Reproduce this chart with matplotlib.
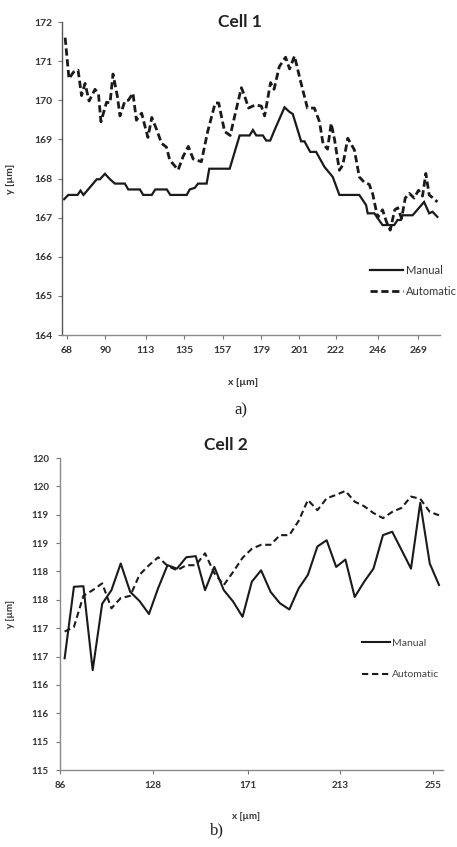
import matplotlib
matplotlib.use('agg')
import matplotlib.pyplot as plt
import numpy as np

plt.rcParams['font.family'] = ['Lato', 'DejaVu Sans']

# Cell 1 - manual contour (x in µm, y in µm)
c1_man_x = [66.3, 68.7, 74.0, 75.7, 77.4, 85.0, 86.8, 89.7, 92.6, 95.4, 101.1, 103.0,
            109.7, 111.6, 116.5, 118.5, 125.1, 127.1, 136.5, 138.2, 141.1, 143.0, 147.9,
            149.4, 161.1, 166.8, 172.5, 174.4, 176.3, 180.1, 182.0, 184.3, 186.8, 192.5,
            195.4, 197.2, 202.0, 203.9, 207.2, 210.6, 215.3, 220.1, 223.9, 235.3, 239.2,
            240.1, 243.9, 248.6, 255.3, 257.2, 259.1, 260.0, 265.8, 272.4, 275.3, 277.2,
            280.0]
c1_man_y = [167.47, 167.58, 167.58, 167.69, 167.58, 167.98, 167.98, 168.12, 167.98, 167.87,
            167.87, 167.72, 167.72, 167.58, 167.58, 167.72, 167.72, 167.58, 167.58, 167.72,
            167.76, 167.87, 167.87, 168.25, 168.25, 169.10, 169.10, 169.24, 169.10, 169.10,
            168.97, 168.97, 169.24, 169.82, 169.70, 169.65, 168.95, 168.95, 168.68, 168.68,
            168.30, 168.04, 167.58, 167.58, 167.32, 167.11, 167.11, 166.81, 166.81, 166.94,
            166.94, 167.06, 167.06, 167.40, 167.11, 167.15, 167.02]

# Cell 1 - automatic contour
c1_auto_x = [66.9, 69.1, 71.7, 74.3, 76.3, 78.3, 80.6, 84.0, 86.0, 87.4, 90.6, 92.6, 94.3,
             96.8, 98.3, 101.1, 103.1, 105.7, 107.7, 110.7, 112.8, 114.3, 116.5, 119.2,
             122.1, 124.9, 126.8, 129.1, 131.6, 134.4, 137.4, 140.2, 144.9, 148.5, 152.8,
             154.8, 158.2, 161.4, 164.5, 167.8, 169.7, 171.9, 174.2, 176.3, 179.2, 181.1,
             184.5, 186.5, 189.5, 193.1, 195.4, 198.2, 201.6, 205.6, 209.6, 212.5, 214.5,
             217.1, 219.2, 221.1, 223.9, 225.9, 228.7, 232.5, 235.3, 238.2, 241.0, 243.0,
             245.8, 248.6, 250.8, 253.0, 255.6, 257.3, 259.5, 261.6, 263.9, 266.7, 269.2,
             271.5, 273.4, 275.3, 277.6, 280.0]
c1_auto_y = [171.60, 170.55, 170.72, 170.77, 170.12, 170.43, 169.98, 170.28, 170.15, 169.45,
             169.95, 169.93, 170.67, 170.10, 169.60, 169.98, 170.00, 170.18, 169.49, 169.67,
             169.30, 169.05, 169.56, 169.26, 168.90, 168.80, 168.47, 168.35, 168.22, 168.56,
             168.82, 168.50, 168.43, 169.20, 169.93, 169.93, 169.20, 169.10, 169.70, 170.32,
             170.10, 169.80, 169.85, 169.88, 169.85, 169.60, 170.45, 170.28, 170.86, 171.10,
             170.80, 171.13, 170.50, 169.80, 169.80, 169.45, 168.90, 168.75, 169.41, 169.00,
             168.21, 168.35, 169.03, 168.73, 168.04, 167.90, 167.85, 167.60, 167.00, 167.20,
             166.90, 166.68, 167.20, 167.25, 166.98, 167.50, 167.62, 167.50, 167.70, 167.55,
             168.13, 167.58, 167.50, 167.40]

c1_xticks = [68, 90, 113, 135, 157, 179, 201, 222, 246, 269]
c1_yticks = [164, 165, 166, 167, 168, 169, 170, 171, 172]

# Cell 2 - both contours share the sampling positions
c2_x = [88.1, 92.3, 96.6, 100.8, 105.1, 109.3, 113.5, 117.8, 122.0, 126.3, 130.5, 134.7,
        139.0, 143.2, 147.5, 151.7, 155.9, 160.2, 164.4, 168.7, 172.9, 177.1, 181.4, 185.6,
        189.9, 194.1, 198.3, 202.6, 206.8, 211.1, 215.3, 219.5, 223.8, 228.0, 232.3, 236.5,
        240.7, 245.0, 249.2, 253.5, 257.7]
c2_man = [116.47, 117.73, 117.74, 116.26, 117.43, 117.67, 118.14, 117.64, 117.48, 117.25,
          117.71, 118.11, 118.05, 118.25, 118.27, 117.67, 118.08, 117.67, 117.47, 117.20,
          117.82, 118.02, 117.64, 117.44, 117.33, 117.70, 117.94, 118.44, 118.55, 118.08,
          118.21, 117.55, 117.82, 118.05, 118.64, 118.70, 118.38, 118.05, 119.21, 118.14,
          117.76]
c2_auto = [116.94, 117.02, 117.57, 117.67, 117.79, 117.35, 117.53, 117.57, 117.94, 118.11,
           118.25, 118.10, 118.02, 118.11, 118.11, 118.32, 117.97, 117.76, 117.99, 118.24,
           118.40, 118.47, 118.47, 118.64, 118.64, 118.89, 119.26, 119.08, 119.29, 119.35,
           119.42, 119.23, 119.15, 119.03, 118.94, 119.05, 119.12, 119.32, 119.28, 119.05,
           118.99]

c2_xticks = [86, 128, 171, 213, 255]
c2_yticks = [114.5, 115, 115.5, 116, 116.5, 117, 117.5, 118, 118.5, 119, 119.5, 120]
c2_ylabels = ['115', '115', '116', '116', '117', '117', '118', '118', '119', '119', '120', '120']

ink = '#1a1a1a'
fig = plt.figure(figsize=(4.57, 8.47), dpi=100)


def style_axes(ax, size):
    for s in ['top', 'right']:
        ax.spines[s].set_visible(False)
    ax.spines['left'].set_color('#555555')
    ax.spines['bottom'].set_color('#8a8a8a')
    ax.spines['left'].set_linewidth(1.0)
    ax.spines['bottom'].set_linewidth(1.0)
    ax.tick_params(axis='both', direction='out', length=3, width=0.8, color='#777777',
                   labelsize=size, labelcolor='#333333')
    for lab in ax.get_xticklabels() + ax.get_yticklabels():
        lab.set_fontweight('bold')


# ---- Cell 1 ----
ax1 = fig.add_axes([62 / 457, 1 - 335 / 847, 378 / 457, 313 / 847])
ax1.plot(c1_man_x, c1_man_y, color=ink, lw=1.6, label='Manual', solid_joinstyle='miter')
ax1.plot(c1_auto_x, c1_auto_y, color=ink, lw=2.0, dashes=(2.6, 1.3), label='Automatic')
ax1.set_xlim(65.1, 281.5)
ax1.set_ylim(164, 172)
ax1.set_xticks(c1_xticks)
ax1.set_yticks(c1_yticks)
style_axes(ax1, 7.5)
ax1.tick_params(axis='x', pad=5)
ax1.tick_params(axis='y', pad=4)
ax1.text(0.471, 1.0, 'Cell 1', transform=ax1.transAxes, ha='center', va='center',
         fontsize=12.5, fontweight='bold', color='#222222')
ax1.set_xlabel('x [µm]', fontsize=7.5, fontweight='bold', color='#333333')
ax1.xaxis.set_label_coords(0.479, -0.137)
ax1.set_ylabel('y [µm]', fontsize=7.5, fontweight='bold', color='#333333')
ax1.yaxis.set_label_coords(-0.124, 0.5)
leg1 = ax1.legend(loc='center left', bbox_to_anchor=(0.815, 0.174), frameon=False,
                  fontsize=8, borderpad=0, handlelength=3.0, handletextpad=0.2,
                  labelspacing=0.9, borderaxespad=0)
for t in leg1.get_texts():
    t.set_color('#333333')
fig.text(241 / 457, 1 - 410 / 847, 'a)', ha='center', va='center', fontsize=12,
         family='Liberation Serif', color='#222222')

# ---- Cell 2 ----
ax2 = fig.add_axes([60 / 457, 1 - 770 / 847, 383 / 457, 312 / 847])
ax2.plot(c2_x, c2_man, color=ink, lw=1.5, label='Manual')
ax2.plot(c2_x, c2_auto, color=ink, lw=1.5, dashes=(3.0, 1.8), label='Automatic')
ax2.set_xlim(86, 259.5)
ax2.set_ylim(114.5, 120)
ax2.set_xticks(c2_xticks)
ax2.set_yticks(c2_yticks)
ax2.set_yticklabels(c2_ylabels)
style_axes(ax2, 7)
ax2.spines['left'].set_color('#8a8a8a')
ax2.tick_params(axis='x', pad=5)
ax2.tick_params(axis='y', pad=5)
ax2.text(0.433, 1.042, 'Cell 2', transform=ax2.transAxes, ha='center', va='center',
         fontsize=12.5, fontweight='bold', color='#222222')
ax2.set_xlabel('x [µm]', fontsize=7, fontweight='bold', color='#333333')
ax2.xaxis.set_label_coords(0.486, -0.135)
ax2.set_ylabel('y [µm]', fontsize=7, fontweight='bold', color='#333333')
ax2.yaxis.set_label_coords(-0.117, 0.5)
leg2 = ax2.legend(loc='center left', bbox_to_anchor=(0.789, 0.356), frameon=False,
                  fontsize=7.5, borderpad=0, handlelength=2.7, handletextpad=0.2,
                  labelspacing=2.1, borderaxespad=0)
for t in leg2.get_texts():
    t.set_color('#444444')
fig.text(217 / 457, 1 - 830 / 847, 'b)', ha='center', va='center', fontsize=12,
         family='Liberation Serif', color='#222222')

fig.savefig('out.png', dpi=100)
